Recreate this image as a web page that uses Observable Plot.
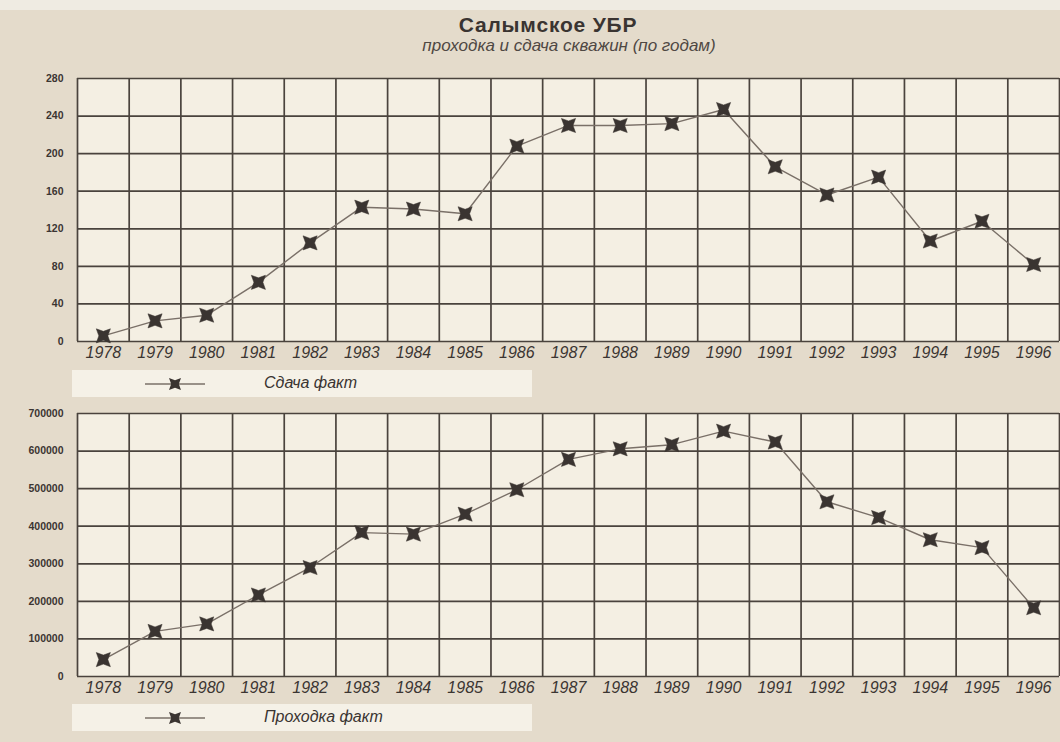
<!DOCTYPE html>
<html>
<head>
<meta charset="utf-8">
<script src="https://cdn.jsdelivr.net/npm/d3@7"></script>
<script src="https://cdn.jsdelivr.net/npm/@observablehq/plot@0.6"></script>
<style>
  html, body { margin: 0; padding: 0; }
  body { width: 1060px; height: 742px; background: #e4dbcb; font-family: "Liberation Sans", Arial, sans-serif; position: relative; overflow: hidden; }
  #strip { position: absolute; left: 0; top: 0; width: 1060px; height: 10px; background: #efebe2; }
  #title { position: absolute; left: 0; width: 1096px; top: 14px; line-height: 22px; text-align: center; font-weight: bold; font-size: 21px; letter-spacing: 0.8px; color: #3a3431; }
  #subtitle { position: absolute; left: 0; width: 1138px; top: 37px; line-height: 18px; text-align: center; font-style: italic; font-size: 17px; color: #4f4843; }
  .panel { position: absolute; left: 0; }
  .legend { position: absolute; left: 72px; width: 460px; height: 27px; background: #f5f1e7; }
  .legend svg { position: absolute; left: 0; top: 0; }
  .legend span { position: absolute; left: 192px; top: 4px; font-style: italic; font-size: 16px; color: #3a3431; }
</style>
</head>
<body>
<div id="strip"></div>
<div id="title">Салымское УБР</div>
<div id="subtitle">проходка и сдача скважин (по годам)</div>
<div class="panel" id="top" style="top:60px"></div>
<div class="legend" id="leg1" style="top:370px"></div>
<div class="panel" id="bottom" style="top:395px"></div>
<div class="legend" id="leg2" style="top:704px"></div>
<script>
const years = [1978,1979,1980,1981,1982,1983,1984,1985,1986,1987,1988,1989,1990,1991,1992,1993,1994,1995,1996];
const sdacha = [6,22,28,63,105,143,141,136,208,230,230,232,247,186,156,175,107,128,82];
const prokhodka = [45000,120000,140000,217000,290000,383000,379000,432000,497000,578000,606000,617000,653000,624000,465000,423000,364000,343000,183000];
const sdachaTicks = [0,40,80,120,160,200,240,280];
const prokhodkaTicks = [0,100000,200000,300000,400000,500000,600000,700000];
const seriesNames = ["Сдача факт", "Проходка факт"];

const star4 = {
  draw(ctx, size) {
    const r = Math.sqrt(size / Math.PI);
    const ri = r * 0.45;
    for (let i = 0; i < 8; i++) {
      const a = Math.PI / 4 + i * Math.PI / 4;
      const rr = i % 2 === 0 ? r : ri;
      const px = rr * Math.cos(a), py = rr * Math.sin(a);
      if (i === 0) ctx.moveTo(px, py); else ctx.lineTo(px, py);
    }
    ctx.closePath();
  }
};

const gridColor = "#4a433d";
const lineColor = "#7a7068";
const markColor = "#3a3431";

function panel(values, yTicks) {
  const data = years.map((yr, i) => ({year: yr, value: values[i]}));
  const edges = years.map(y => y - 0.5).concat([years[years.length - 1] + 0.5]);
  return Plot.plot({
    width: 1060, height: 305,
    marginLeft: 77, marginRight: 1, marginTop: 18, marginBottom: 24,
    style: {background: "transparent", fontFamily: "'Liberation Sans', Arial, sans-serif", overflow: "visible"},
    x: {domain: [years[0] - 0.5, years[years.length - 1] + 0.5]},
    y: {domain: [yTicks[0], yTicks[yTicks.length - 1]]},
    marks: [
      Plot.frame({fill: "#f4efe3", stroke: null}),
      Plot.ruleX(edges, {stroke: gridColor, strokeWidth: 1.7}),
      Plot.ruleY(yTicks, {stroke: gridColor, strokeWidth: 1.7}),
      Plot.axisX(years, {tickSize: 0, tickPadding: 5, fontSize: 16, fontStyle: "italic", fill: "#3b3532", tickFormat: d => String(d), label: null}),
      Plot.axisY(yTicks, {tickSize: 0, tickPadding: 14, fontSize: 10.5, fontWeight: "bold", fill: "#3b3532", tickFormat: d => String(d), label: null}),
      Plot.line(data, {x: "year", y: "value", stroke: lineColor, strokeWidth: 1.4}),
      Plot.dot(data, {x: "year", y: "value", symbol: star4, r: 10, fill: markColor, stroke: markColor, strokeWidth: 0.5})
    ]
  });
}

document.getElementById("top").appendChild(panel(sdacha, sdachaTicks));
document.getElementById("bottom").appendChild(panel(prokhodka, prokhodkaTicks));

function legend(id, name) {
  const el = document.getElementById(id);
  const svg = d3.create("svg").attr("width", 180).attr("height", 27);
  svg.append("line").attr("x1", 73).attr("x2", 133).attr("y1", 14).attr("y2", 14)
    .attr("stroke", lineColor).attr("stroke-width", 1.4);
  svg.append("path").attr("d", d3.symbol(star4, Math.PI * 72)()).attr("transform", "translate(103,14)")
    .attr("fill", markColor);
  el.appendChild(svg.node());
  const s = document.createElement("span");
  s.textContent = name;
  el.appendChild(s);
}
legend("leg1", seriesNames[0]);
legend("leg2", seriesNames[1]);
</script>
</body>
</html>
